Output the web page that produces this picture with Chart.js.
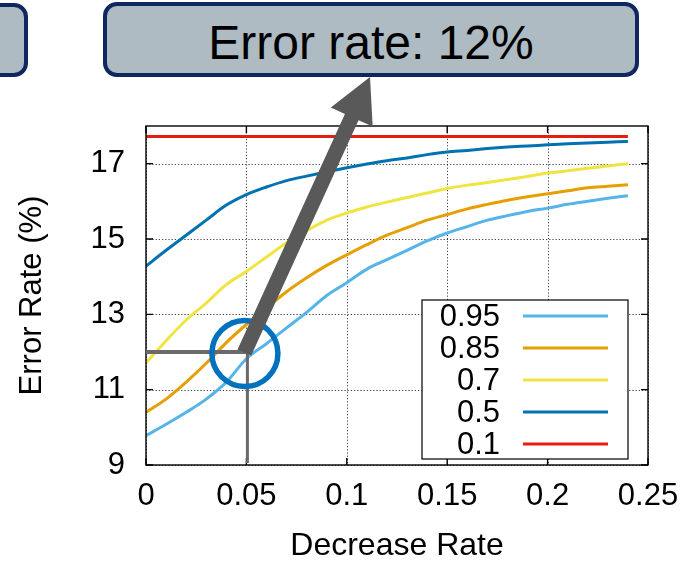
<!DOCTYPE html>
<html><head><meta charset="utf-8">
<script src="https://cdn.jsdelivr.net/npm/chart.js@4"></script>
<style>
html,body{margin:0;padding:0;background:#fff;overflow:hidden}
#wrap{position:relative;width:693px;height:563px;overflow:hidden}
canvas{position:absolute;left:0;top:0}
.box{position:absolute;box-sizing:border-box;background:#aebbc3;border:4px solid #0f2660;border-radius:14px;font-family:"Liberation Sans",Arial,sans-serif;color:#000;display:flex;align-items:center;justify-content:center}
</style></head><body>
<div id="wrap">
<canvas id="c" width="693" height="563"></canvas>
<div class="box" style="left:-300px;top:3px;width:328px;height:74px"></div>
<div class="box" style="left:103px;top:2px;width:536px;height:75px;font-size:48px;padding-top:6px">Error rate: 12%</div>
</div>
<script>
// ---- data ----
const decreaseRate = [0,0.01,0.02,0.03,0.04,0.05,0.06,0.07,0.08,0.09,0.10,0.11,0.12,0.13,0.14,0.15,0.16,0.17,0.18,0.19,0.20,0.21,0.22,0.23,0.24];
const err095 = [9.78,10.08,10.4,10.75,11.2,11.82,12.22,12.64,13.05,13.5,13.84,14.2,14.45,14.7,14.95,15.16,15.33,15.5,15.62,15.73,15.82,15.92,16.0,16.08,16.15];
const err085 = [10.4,10.75,11.2,11.7,12.25,12.73,13.17,13.6,13.97,14.3,14.58,14.85,15.1,15.3,15.5,15.65,15.8,15.92,16.03,16.12,16.2,16.28,16.36,16.4,16.44];
const err07  = [11.71,12.3,12.85,13.3,13.79,14.14,14.52,14.9,15.22,15.5,15.69,15.85,15.98,16.1,16.22,16.34,16.43,16.5,16.58,16.66,16.75,16.81,16.88,16.94,17.0];
const err05  = [14.28,14.7,15.1,15.5,15.9,16.18,16.38,16.55,16.67,16.78,16.89,16.99,17.08,17.15,17.24,17.31,17.35,17.4,17.44,17.47,17.5,17.53,17.55,17.57,17.59];
const err01  = [17.72,17.72,17.72,17.72,17.72,17.72,17.72,17.72,17.72,17.72,17.72,17.72,17.72,17.72,17.72,17.72,17.72,17.72,17.72,17.72,17.72,17.72,17.72,17.72,17.72];
const seriesLabels = ['0.95','0.85','0.7','0.5','0.1'];
const seriesValues = [err095, err085, err07, err05, err01];
const seriesColors = ['#56b4e9','#e69f00','#f0e442','#0072b2','#e51e10'];
const xTicks = [0,0.05,0.1,0.15,0.2,0.25];
const xTickLabels = ['0','0.05','0.1','0.15','0.2','0.25'];
const yTicks = [9,11,13,15,17];
const yTickLabels = ['9','11','13','15','17'];
const highlight = {x:0.05, y:12};

const FONT = '"Liberation Sans", Arial, sans-serif';
Chart.defaults.font.family = FONT;
Chart.defaults.color = '#000';

const overlay = {
  id:'overlay',
  beforeDatasetsDraw(chart){
    const {ctx, chartArea:a, scales:{x,y}} = chart;
    ctx.save();
    ctx.strokeStyle = 'rgba(0,0,0,0.75)';
    ctx.lineWidth = 1;
    ctx.setLineDash([1.2,2]);
    ctx.beginPath();
    xTicks.forEach(v=>{const px=Math.round(x.getPixelForValue(v))+0.5; ctx.moveTo(px,a.top); ctx.lineTo(px,a.bottom);});
    yTicks.forEach(v=>{const py=Math.round(y.getPixelForValue(v))+0.5; ctx.moveTo(a.left,py); ctx.lineTo(a.right,py);});
    ctx.stroke();
    ctx.restore();
  },
  afterDatasetsDraw(chart){
    const {ctx, chartArea:a, scales:{x,y}} = chart;
    ctx.save();
    // frame + inward ticks
    ctx.strokeStyle='#000'; ctx.lineWidth=1.4;
    ctx.strokeRect(a.left, a.top, a.right-a.left, a.bottom-a.top);
    ctx.beginPath();
    xTicks.forEach(v=>{const px=x.getPixelForValue(v); ctx.moveTo(px,a.bottom); ctx.lineTo(px,a.bottom-7); ctx.moveTo(px,a.top); ctx.lineTo(px,a.top+7);});
    yTicks.forEach(v=>{const py=y.getPixelForValue(v); ctx.moveTo(a.left,py); ctx.lineTo(a.left+7,py); ctx.moveTo(a.right,py); ctx.lineTo(a.right-7,py);});
    ctx.stroke();
    // legend
    const lg = {left:422, top:300, right:628, bottom:459, textRight:500, lineL:523, lineR:608, row0:316, rowH:32};
    ctx.fillStyle='#fff';
    ctx.fillRect(lg.left, lg.top, lg.right-lg.left, lg.bottom-lg.top);
    ctx.strokeStyle='#000'; ctx.lineWidth=1.2;
    ctx.strokeRect(lg.left, lg.top, lg.right-lg.left, lg.bottom-lg.top);
    ctx.font = '31px ' + FONT;
    ctx.textAlign='right'; ctx.textBaseline='middle';
    chart.data.datasets.forEach((ds,i)=>{
      const ry = lg.row0 + i*lg.rowH;
      ctx.fillStyle='#000';
      ctx.fillText(ds.label, lg.textRight, ry+1);
      ctx.strokeStyle=ds.borderColor; ctx.lineWidth=3;
      ctx.beginPath(); ctx.moveTo(lg.lineL, ry); ctx.lineTo(lg.lineR, ry); ctx.stroke();
    });
    // highlight guide lines
    const hx=x.getPixelForValue(highlight.x), hy=y.getPixelForValue(highlight.y);
    ctx.strokeStyle='#6a6a6a'; ctx.lineCap='butt';
    ctx.lineWidth=4;
    ctx.beginPath(); ctx.moveTo(a.left, hy); ctx.lineTo(hx+2, hy); ctx.stroke();
    ctx.lineWidth=3;
    ctx.beginPath(); ctx.moveTo(hx+1, hy); ctx.lineTo(hx+1, a.bottom-2); ctx.stroke();
    // circle
    ctx.strokeStyle='#0072bd'; ctx.lineWidth=5.5;
    ctx.beginPath(); ctx.arc(hx-1.5, hy+1.5, 33, 0, Math.PI*2); ctx.stroke();
    // arrow to the label box
    const B = {x:hx-2, y:hy+0.5}, T = {x:370, y:77};
    const dx=T.x-B.x, dy=T.y-B.y, L=Math.hypot(dx,dy);
    const d={x:dx/L,y:dy/L}, n={x:-d.y,y:d.x};
    const headLen=44, headHalf=23, shaftHalf=7.5;
    const H={x:T.x-headLen*d.x, y:T.y-headLen*d.y};
    const P=(p,k)=>[p.x+k*n.x, p.y+k*n.y];
    const pts=[P(B,-shaftHalf),P(H,-shaftHalf),P(H,-headHalf),[T.x,T.y],P(H,headHalf),P(H,shaftHalf),P(B,shaftHalf)];
    ctx.fillStyle='#595959';
    ctx.beginPath(); pts.forEach((p,i)=> i?ctx.lineTo(p[0],p[1]):ctx.moveTo(p[0],p[1])); ctx.closePath(); ctx.fill();
    ctx.restore();
  }
};

new Chart(document.getElementById('c'), {
  type:'line',
  data:{
    datasets: seriesLabels.map((lab,i)=>({
      label: lab,
      data: decreaseRate.map((r,j)=>({x:r, y:seriesValues[i][j]})),
      borderColor: seriesColors[i],
      borderWidth: 3,
      pointRadius: 0,
      cubicInterpolationMode: 'monotone',
      fill: false
    }))
  },
  options:{
    responsive:false, animation:false, devicePixelRatio:1,
    layout:{padding:{top:126, right:45, left:0, bottom:0}},
    plugins:{legend:{display:false}, tooltip:{enabled:false}},
    scales:{
      x:{
        type:'linear', min:0, max:0.25,
        afterBuildTicks:s=>{ s.ticks = xTicks.map(v=>({value:v})); },
        afterFit:s=>{ s.height=98; s.paddingLeft=0; s.paddingRight=0; },
        grid:{display:false, drawTicks:false},
        border:{display:false},
        ticks:{padding:13, font:{size:31}, color:'#000', maxRotation:0, autoSkip:false,
               callback:(v,i)=>xTickLabels[i]},
        title:{display:true, text:'Decrease Rate', color:'#000', font:{size:32, lineHeight:1}, padding:{top:0,bottom:1}}
      },
      y:{
        type:'linear', min:9, max:18,
        afterBuildTicks:s=>{ s.ticks = yTicks.map(v=>({value:v})); },
        afterFit:s=>{ s.width=146; s.paddingTop=0; s.paddingBottom=0; },
        grid:{display:false, drawTicks:false},
        border:{display:false},
        ticks:{padding:21, font:{size:31}, color:'#000', autoSkip:false,
               callback:(v,i)=>yTickLabels[i]},
        title:{display:true, text:'Error Rate (%)', color:'#000', font:{size:31, lineHeight:1.2}, padding:{top:13.4,bottom:0}}
      }
    }
  },
  plugins:[overlay]
});
</script>
</body></html>
